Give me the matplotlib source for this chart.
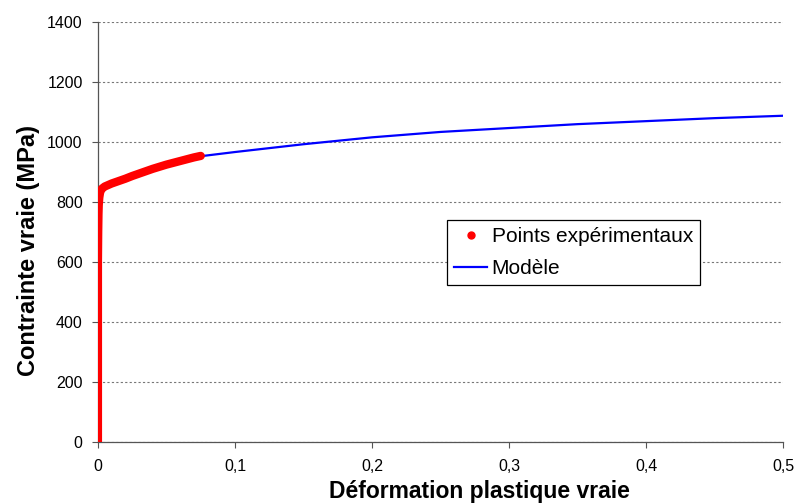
import matplotlib
matplotlib.use("Agg")
import matplotlib.pyplot as plt
from matplotlib.lines import Line2D
from matplotlib.ticker import FuncFormatter

plt.rcParams['font.family'] = ['Liberation Sans', 'DejaVu Sans']

# Experimental points (true plastic strain, true stress MPa)
exp_strain = [0.0, 0.0, 0.0, 0.0, 0.0, 0.0002, 0.0004, 0.0006, 0.001, 0.0015, 0.002,
              0.003, 0.005, 0.008, 0.01, 0.015, 0.02, 0.025, 0.03, 0.035, 0.04,
              0.045, 0.05, 0.055, 0.06, 0.065, 0.07, 0.075]
exp_stress = [0, 150, 300, 450, 600, 700, 760, 790, 815, 830, 838,
              845, 852, 858, 862, 870, 878, 887, 895, 903, 911,
              918, 925, 931, 937, 943, 949, 954]

# Model curve
mod_strain = [0.0005, 0.001, 0.002, 0.005, 0.01, 0.02, 0.03, 0.05, 0.075, 0.1,
              0.15, 0.2, 0.25, 0.3, 0.35, 0.4, 0.45, 0.5]
mod_stress = [810, 825, 838, 852, 862, 878, 895, 922, 953, 967,
              993, 1016, 1034, 1047, 1060, 1070, 1080, 1088]

x_ticks = [0, 0.1, 0.2, 0.3, 0.4, 0.5]
y_ticks = [0, 200, 400, 600, 800, 1000, 1200, 1400]

fig = plt.figure(figsize=(7.96, 5.04), dpi=100)
ax = fig.add_axes([0.123, 0.123, 0.861, 0.833])

ax.plot(mod_strain, mod_stress, color='#0000ff', lw=1.6, zorder=3)
ax.plot(exp_strain, exp_stress, color='#ff0000', lw=6.0, solid_capstyle='round',
        solid_joinstyle='round', zorder=4)

ax.set_xlim(0, 0.5)
ax.set_ylim(0, 1400)
ax.set_xticks(x_ticks)
ax.set_yticks(y_ticks)
ax.xaxis.set_major_formatter(FuncFormatter(lambda v, p: ('%g' % v).replace('.', ',')))
ax.tick_params(axis='both', labelsize=11.5, direction='out', length=4, width=0.8,
               color='#555555', labelcolor='black')
ax.tick_params(axis='y', pad=7)
ax.tick_params(axis='x', pad=8)
for s in ['top', 'right']:
    ax.spines[s].set_visible(False)
for s in ['left', 'bottom']:
    ax.spines[s].set_color('#555555')
    ax.spines[s].set_linewidth(0.9)

ax.grid(axis='y', linestyle=(0, (2, 2)), color='#777777', linewidth=0.8)
ax.set_axisbelow(True)

ax.set_xlabel('Déformation plastique vraie', fontsize=16.5, fontweight='bold')
ax.set_ylabel('Contrainte vraie (MPa)', fontsize=17, fontweight='bold')
ax.xaxis.set_label_coords(0.557, -0.09)
ax.yaxis.set_label_coords(-0.085, 0.457)

handles = [Line2D([], [], color='#ff0000', marker='o', markersize=5, linestyle='none'),
           Line2D([], [], color='#0000ff', lw=1.6)]
leg = ax.legend(handles, ['Points expérimentaux', 'Modèle'], loc='upper left',
                bbox_to_anchor=(0.509, 0.5286), fontsize=15, frameon=True,
                fancybox=False, edgecolor='black', framealpha=1, handlelength=1.6,
                handletextpad=0.2, borderpad=0.35, labelspacing=0.6, borderaxespad=0)
leg.get_frame().set_linewidth(0.9)

fig.savefig('out.png', dpi=100)
